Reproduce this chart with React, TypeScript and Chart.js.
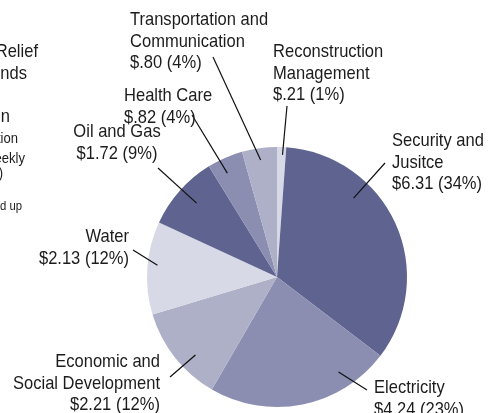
import React, { useEffect, useRef } from "react";
import { Chart, registerables } from "chart.js";

Chart.register(...registerables);

// Data (clockwise from 12 o'clock)
const categories = [
  "Reconstruction Management",
  "Security and Jusitce",
  "Electricity",
  "Economic and Social Development",
  "Water",
  "Oil and Gas",
  "Health Care",
  "Transportation and Communication",
];
const values = [0.21, 6.31, 4.24, 2.21, 2.13, 1.72, 0.82, 0.8];
const valueLabels = ["$.21", "$6.31", "$4.24", "$2.21", "$2.13", "$1.72", "$.82", "$.80"];
const percentLabels = ["1%", "34%", "23%", "12%", "12%", "9%", "4%", "4%"];
const nameLines = [
  ["Reconstruction", "Management"],
  ["Security and", "Jusitce"],
  ["Electricity"],
  ["Economic and", "Social Development"],
  ["Water"],
  ["Oil and Gas"],
  ["Health Care"],
  ["Transportation and", "Communication"],
];

// Colours (repeating four-tone palette)
const sliceColors = ["#d8d9e6", "#5f6390", "#8b8eb0", "#adb0c7", "#d8d9e6", "#5f6390", "#8b8eb0", "#adb0c7"];

// Label layout: text anchor, alignment, first baseline, leader-line outer end,
// leader-line inner end as (fraction of slice angle, fraction of radius)
const labelLayout = [
  { x: 273, align: "left", y: 57, lx: 287, ly: 106, af: 0.63, rf: 0.94 },
  { x: 392, align: "left", y: 146, lx: 385, ly: 163, af: 0.325, rf: 0.846 },
  { x: 374, align: "left", y: 393, lx: 367, ly: 390, af: 0.239, rf: 0.871 },
  { x: 160, align: "right", y: 367, lx: 170, ly: 377, af: 0.376, rf: 0.868 },
  { x: 129, align: "right", y: 242, lx: 133, ly: 250, af: 0.54, rf: 0.924 },
  { x: 117, align: "center", y: 137, lx: 158, ly: 168, af: 0.53, rf: 0.84 },
  { x: 124, align: "left", y: 101, lx: 192, ly: 115, af: 0.38, rf: 0.886 },
  { x: 130, align: "left", y: 25, lx: 213, ly: 57, af: 0.49, rf: 0.909 },
];

// Cropped text from the neighbouring panel at the left edge
const edgeTexts = [
  { t: "Iraq Relief", x: 38, y: 57, size: 19 },
  { t: "Reconstruction Funds", x: 27, y: 79, size: 19 },
  { t: "Allocation", x: 10, y: 122, size: 19 },
  { t: "in billions, allocation", x: 18, y: 143, size: 15 },
  { t: "as reported in weekly", x: 25, y: 163, size: 15 },
  { t: "(2007)", x: 3, y: 178, size: 15 },
  { t: "may not add up", x: 22, y: 210, size: 13 },
];

const FONT = '"Liberation Sans", Arial, sans-serif';
const SX = 0.87;
const LINE_H = 21.5;

function drawNarrow(ctx: CanvasRenderingContext2D, text: string, x: number, y: number, align: CanvasTextAlign, size: number) {
  ctx.save();
  ctx.translate(x, y);
  ctx.scale(SX, 1);
  ctx.font = `${size}px ${FONT}`;
  ctx.textAlign = align;
  ctx.textBaseline = "alphabetic";
  ctx.fillText(text, 0, 0);
  ctx.restore();
}

const labelPlugin = {
  id: "outerLabels",
  afterDraw(chart: any) {
    const ctx = chart.ctx as CanvasRenderingContext2D;
    const meta = chart.getDatasetMeta(0);
    ctx.save();
    ctx.fillStyle = "#1c1c1c";
    ctx.strokeStyle = "#111111";
    ctx.lineWidth = 1.2;
    meta.data.forEach((arc: any, i: number) => {
      const L = labelLayout[i];
      const p = arc.getProps(["x", "y", "startAngle", "endAngle", "outerRadius"], true);
      const ang = p.startAngle + L.af * (p.endAngle - p.startAngle);
      const r = L.rf * p.outerRadius;
      const ix = p.x + Math.cos(ang) * r;
      const iy = p.y + Math.sin(ang) * r;
      ctx.beginPath();
      ctx.moveTo(L.lx, L.ly);
      ctx.lineTo(ix, iy);
      ctx.stroke();
      const lines = [...nameLines[i], `${valueLabels[i]} (${percentLabels[i]})`];
      lines.forEach((ln, k) => drawNarrow(ctx, ln, L.x, L.y + k * LINE_H, L.align as CanvasTextAlign, 19));
    });
    edgeTexts.forEach((e) => drawNarrow(ctx, e.t, e.x, e.y, "right", e.size));
    ctx.restore();
  },
};

export default function App() {
  const ref = useRef<HTMLCanvasElement>(null);
  useEffect(() => {
    const chart = new Chart(ref.current!, {
      type: "pie",
      data: {
        labels: categories,
        datasets: [
          {
            data: values,
            backgroundColor: sliceColors,
            borderWidth: 0,
          },
        ],
      },
      options: {
        responsive: false,
        animation: false,
        devicePixelRatio: 1,
        layout: { padding: { left: 147, top: 147, right: 81, bottom: 6 } },
        plugins: { legend: { display: false }, tooltip: { enabled: false } },
      },
      plugins: [labelPlugin],
    });
    return () => chart.destroy();
  }, []);
  return (
    <div style={{ position: "fixed", left: 0, top: 0, width: 488, height: 413, background: "#fff" }}>
      <canvas ref={ref} width={488} height={413} style={{ display: "block" }} />
    </div>
  );
}
